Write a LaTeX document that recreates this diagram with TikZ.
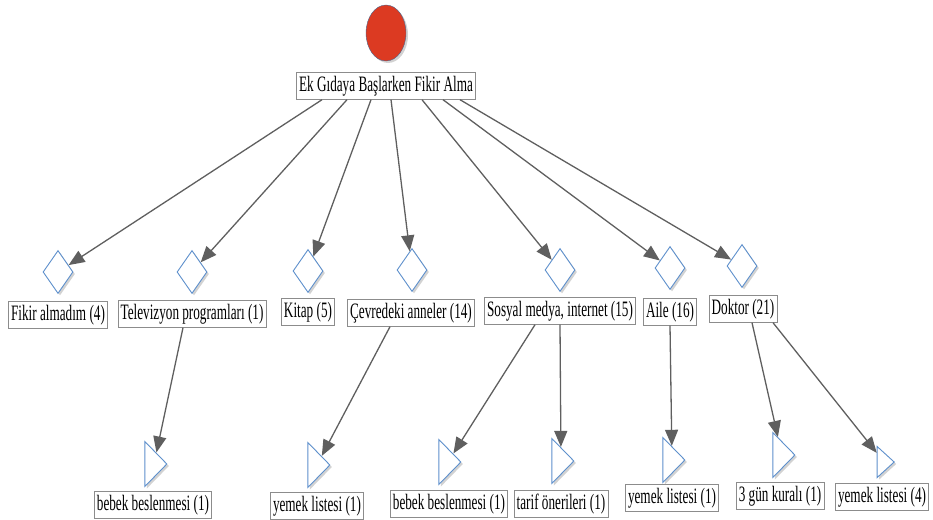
\documentclass[tikz,border=0pt]{standalone}
\usepackage{fontspec}
\setmainfont{Liberation Serif}[FakeStretch=0.6]
\usetikzlibrary{shapes.geometric,shadows,arrows.meta}
\definecolor{rootred}{HTML}{DC3A22}
\definecolor{rootrim}{HTML}{4A6890}
\definecolor{rimblue}{HTML}{5E90CC}
\definecolor{wiregray}{HTML}{5F5F5F}
\definecolor{boxgray}{HTML}{8C8C8C}
\tikzstyle{start}=[ellipse,draw=rootrim,fill=rootred,minimum width=40pt,minimum height=56pt,
drop shadow={shadow xshift=2pt,shadow yshift=-2pt,fill=black!35}]
\tikzstyle{lbl}=[rectangle,draw=boxgray,fill=white,inner xsep=2.5pt,inner ysep=3.5pt,
font=\fontsize{22}{24}\selectfont]
\tikzstyle{choice}=[diamond,draw=rimblue,fill=white,minimum width=30pt,minimum height=43pt,
inner sep=0pt,line width=0.9pt,drop shadow={shadow xshift=2pt,shadow yshift=-2pt,fill=black!35}]
\tikzstyle{leaf}=[isosceles triangle,isosceles triangle stretches,draw=rimblue,fill=white,
minimum width=45pt,minimum height=22pt,inner sep=0pt,line width=0.9pt,
drop shadow={shadow xshift=2pt,shadow yshift=-2pt,fill=black!35}]
\tikzstyle{wire}=[draw=wiregray,line width=1.3pt,-{Triangle[length=16pt,width=13pt]}]
\begin{document}
\begin{tikzpicture}[x=1pt,y=-1pt]
            \useasboundingbox (0,0) rectangle (933,519);
            % ROOT PART

            \node[start] (r0) at (386,33) {};
            \node[lbl] (r1) at (386,86) {Ek Gıdaya Başlarken Fikir Alma};

            % SOURCES PART

            \node[choice] (q1) at (58,272) {};
            \node[choice] (q2) at (192,272) {};
            \node[choice] (q3) at (308,271) {};
            \node[choice] (q4) at (412,270) {};
            \node[choice] (q5) at (560,270) {};
            \node[choice] (q6) at (670,268) {};
            \node[choice] (q7) at (742,266) {};

            \node[lbl] (l1) at (58,315) {Fikir almadım (4)};
            \node[lbl] (l2) at (192,314) {Televizyon programları (1)};
            \node[lbl] (l3) at (308,312) {Kitap (5)};
            \node[lbl] (l4) at (411,313) {Çevredeki anneler (14)};
            \node[lbl] (l5) at (560,311) {Sosyal medya, internet (15)};
            \node[lbl] (l6) at (670,312) {Aile (16)};
            \node[lbl] (l7) at (743,309) {Doktor (21)};

            \path ([xshift=-64pt]r1.south) edge[wire] (q1);
            \path ([xshift=-39pt]r1.south) edge[wire] (q2);
            \path ([xshift=-15pt]r1.south) edge[wire] (q3);
            \path ([xshift=5pt]r1.south) edge[wire] (q4);
            \path ([xshift=36pt]r1.south) edge[wire] (q5);
            \path ([xshift=57pt]r1.south) edge[wire] (q6);
            \path ([xshift=74pt]r1.south) edge[wire] (q7);

            % DETAILS PART

            \node[leaf] (s1) at (154,464) {};
            \node[leaf] (s2) at (317,465) {};
            \node[leaf] (s3) at (448,462) {};
            \node[leaf] (s4) at (561,461) {};
            \node[leaf] (s5) at (672,460) {};
            \node[leaf] (s6) at (782,455) {};
            \node[leaf,minimum width=31pt,minimum height=17pt] (s7) at (884,462) {};

            \node[lbl] (m1) at (153,505) {bebek beslenmesi (1)};
            \node[lbl] (m2) at (317,506) {yemek listesi (1)};
            \node[lbl] (m3) at (449,504) {bebek beslenmesi (1)};
            \node[lbl] (m4) at (561,504) {tarif önerileri (1)};
            \node[lbl] (m5) at (672,498) {yemek listesi (1)};
            \node[lbl] (m6) at (780,496) {3 gün kuralı (1)};
            \node[lbl] (m7) at (882,497) {yemek listesi (4)};

            \path ([xshift=-9pt]l2.south) edge[wire] (s1);
            \path ([xshift=-21pt]l4.south) edge[wire] (s2);
            \path ([xshift=-25pt]l5.south) edge[wire] (s3);
            \path (l5.south) edge[wire] (s4);
            \path (l6.south) edge[wire] (s5);
            \path ([xshift=9pt]l7.south) edge[wire] (s6);
            \path ([xshift=30pt]l7.south) edge[wire] (s7);

        \end{tikzpicture}
\end{document}
